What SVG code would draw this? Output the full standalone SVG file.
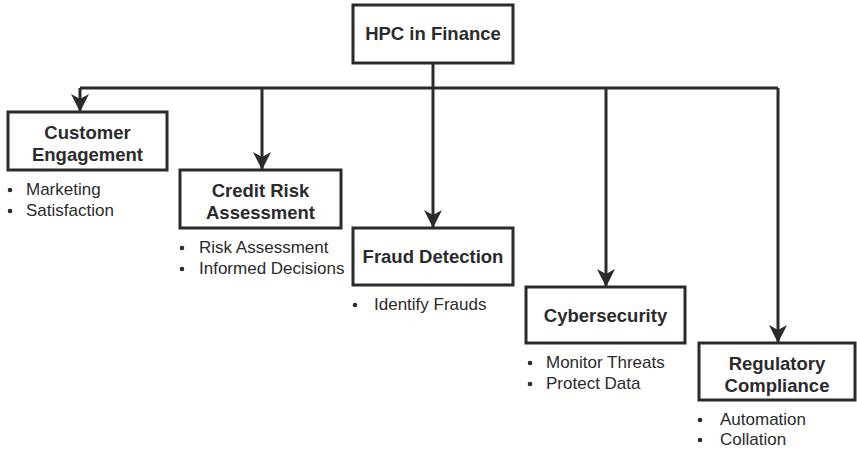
<svg xmlns="http://www.w3.org/2000/svg" width="857" height="450" viewBox="0 0 857 450">
  <style>
    .box { fill: #ffffff; stroke: #2b2b2b; stroke-width: 3; }
    .title { font-family: "Liberation Sans", Arial, sans-serif; font-weight: bold; font-size: 18.5px; fill: #2b2b2b; text-anchor: middle; }
    .item { font-family: "Liberation Sans", Arial, sans-serif; font-size: 17px; fill: #2b2b2b; }
    .dot { fill: #2b2b2b; }
    .wire { fill: none; stroke: #2b2b2b; stroke-width: 3; }
  </style>
  <defs>
    <marker id="head" markerWidth="19" markerHeight="18" refX="17" refY="9" orient="auto" markerUnits="userSpaceOnUse" viewBox="0 0 19 18">
      <path d="M0,0 L18,9 L0,18 L5,9 Z" fill="#2b2b2b"/>
    </marker>
  </defs>
  <rect width="857" height="450" fill="#ffffff"/>

  <g id="connectors">
    <path class="wire" d="M433,63 V88"/>
    <path class="wire" d="M80,88 H778"/>
    <path class="wire" d="M80,88 V111" marker-end="url(#head)"/>
    <path class="wire" d="M262,88 V169" marker-end="url(#head)"/>
    <path class="wire" d="M433,88 V227" marker-end="url(#head)"/>
    <path class="wire" d="M606,88 V286" marker-end="url(#head)"/>
    <path class="wire" d="M778,88 V342" marker-end="url(#head)"/>
  </g>

  <g id="root">
    <rect class="box" x="353" y="5" width="160" height="58"/>
    <text class="title" x="433" y="40">HPC in Finance</text>
  </g>

  <g id="customer-engagement">
    <rect class="box" x="8" y="112" width="159" height="58"/>
    <text class="title" x="87.5" y="139">Customer</text>
    <text class="title" x="87.5" y="161">Engagement</text>
    <circle class="dot" cx="10" cy="190" r="2.3"/><text class="item" x="26" y="195">Marketing</text>
    <circle class="dot" cx="10" cy="211" r="2.3"/><text class="item" x="26" y="216">Satisfaction</text>
  </g>

  <g id="credit-risk">
    <rect class="box" x="180" y="170" width="161" height="58"/>
    <text class="title" x="260.5" y="197">Credit Risk</text>
    <text class="title" x="260.5" y="219">Assessment</text>
    <circle class="dot" cx="182" cy="248" r="2.3"/><text class="item" x="199" y="253">Risk Assessment</text>
    <circle class="dot" cx="182" cy="269" r="2.3"/><text class="item" x="199" y="274">Informed Decisions</text>
  </g>

  <g id="fraud-detection">
    <rect class="box" x="353" y="228" width="160" height="57"/>
    <text class="title" x="433" y="263">Fraud Detection</text>
    <circle class="dot" cx="355" cy="305" r="2.3"/><text class="item" x="374" y="310">Identify Frauds</text>
  </g>

  <g id="cybersecurity">
    <rect class="box" x="526" y="287" width="159" height="56"/>
    <text class="title" x="605.5" y="322">Cybersecurity</text>
    <circle class="dot" cx="530" cy="363" r="2.3"/><text class="item" x="546" y="368">Monitor Threats</text>
    <circle class="dot" cx="530" cy="384" r="2.3"/><text class="item" x="546" y="389">Protect Data</text>
  </g>

  <g id="regulatory-compliance">
    <rect class="box" x="699" y="343" width="156" height="57"/>
    <text class="title" x="777" y="370">Regulatory</text>
    <text class="title" x="777" y="392">Compliance</text>
    <circle class="dot" cx="700" cy="420" r="2.3"/><text class="item" x="720" y="425">Automation</text>
    <circle class="dot" cx="700" cy="440" r="2.3"/><text class="item" x="720" y="445">Collation</text>
  </g>
</svg>
